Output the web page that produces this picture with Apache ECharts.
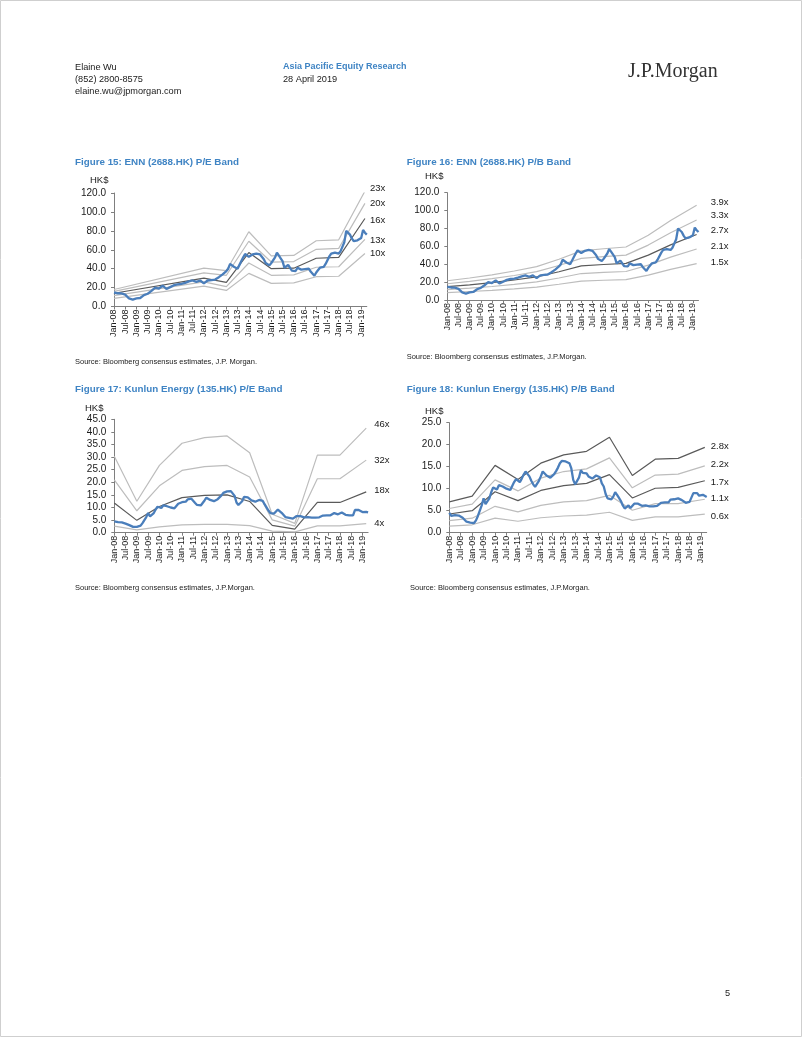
<!DOCTYPE html>
<html>
<head>
<meta charset="utf-8">
<script src="https://cdn.jsdelivr.net/npm/echarts@6/dist/echarts.min.js"></script>
<style>
html,body{margin:0;padding:0;background:#fff;}
#c{width:802px;height:1037px;}
</style>
</head>
<body>
<div id="c"></div>
<script>
// ---------- categories (monthly, Jan-08 .. Apr-19) ----------
const monthNames = ['Jan','Feb','Mar','Apr','May','Jun','Jul','Aug','Sep','Oct','Nov','Dec'];
const categories = [];
for (let y = 8; y <= 19; y++) {
  for (let m = 0; m < 12; m++) {
    if (y === 19 && m > 3) break;
    categories.push(monthNames[m] + '-' + String(y).padStart(2, '0'));
  }
}

// ---------- ENN (2688.HK) monthly share price, HK$ ----------
const ennPrice = [
  14.8,14.5,14.0,14.2,13.8,13.2,12.5,11.0,8.5,7.5,7.2,7.8,
  8.5,8.0,9.0,10.5,12.0,13.0,13.5,14.8,16.5,18.0,20.0,19.5,
  19.0,20.5,22.0,21.0,18.5,19.0,20.5,22.0,22.5,23.0,23.5,23.0,
  24.0,24.5,25.0,26.0,26.5,27.0,27.5,26.5,26.0,27.0,27.5,25.5,
  24.5,26.0,27.5,27.0,28.0,29.0,28.5,30.0,31.0,32.5,34.0,35.5,
  37.5,40.0,45.0,43.0,42.0,41.0,40.0,44.0,48.0,52.0,55.5,57.5,
  52.5,54.0,55.0,55.5,56.0,55.5,55.0,53.0,50.0,46.0,44.0,43.5,
  46.0,48.0,52.0,57.0,54.0,51.0,48.0,41.0,39.0,44.0,43.0,38.0,
  36.0,37.5,41.0,42.5,39.0,38.0,39.5,41.5,40.0,37.0,35.0,32.5,
  36.0,38.5,41.0,40.5,42.0,45.0,47.0,53.0,56.0,55.5,57.0,57.5,
  56.0,58.5,60.0,68.0,80.0,79.0,76.0,72.0,69.0,67.5,70.0,71.0,
  72.5,81.0,78.0,76.0
];

// ---------- Kunlun Energy (135.HK) monthly share price, HK$ ----------
const klPrice = [
  4.5,3.8,4.2,4.0,4.1,3.9,3.6,3.4,3.0,2.5,2.3,2.3,
  2.3,2.2,2.8,3.8,5.0,6.2,7.8,6.5,6.2,7.8,9.2,10.3,
  10.2,9.8,10.8,11.0,10.5,10.2,10.0,10.2,9.7,10.0,11.5,12.2,
  12.1,11.5,12.3,13.2,13.9,13.5,12.8,11.8,11.0,10.4,10.8,11.8,
  12.8,13.9,13.6,13.0,12.6,12.5,12.7,13.3,14.0,14.8,15.8,16.3,
  16.4,16.2,16.5,15.8,14.6,12.0,11.0,10.9,12.5,14.2,13.6,14.0,
  13.5,12.8,13.2,12.3,12.7,13.0,13.4,12.6,11.2,10.5,8.8,7.8,
  8.0,7.6,8.2,9.2,8.6,7.9,7.2,6.2,5.5,5.9,6.2,5.6,
  6.0,6.6,6.9,6.6,6.2,6.1,6.4,6.2,5.9,6.0,5.8,6.0,
  5.7,6.1,6.4,6.8,7.1,6.9,7.0,6.9,7.5,7.8,7.6,7.3,
  7.8,8.0,7.4,7.1,6.8,6.9,7.0,6.9,9.0,9.4,9.0,8.4,
  8.2,8.6,8.3,8.1
];

// ---------- Figure 15: ENN P/E band (values at band kink months) ----------
const ennPEKinks = ['Jan-08','Jan-12','Jan-13','Jan-14','Jan-15','Jan-16','Jan-17','Jan-18','Mar-19'];
const ennPE23 = [18.0, 40.5, 38.0, 79.0, 53.5, 54.0, 69.5, 70.5, 122.0];
const ennPE20 = [16.0, 35.5, 33.0, 69.0, 47.0, 47.5, 60.5, 61.5, 109.0];
const ennPE16 = [14.0, 30.0, 25.5, 57.0, 40.0, 40.5, 51.0, 52.0, 93.0];
const ennPE13 = [11.5, 26.0, 21.0, 46.0, 33.0, 33.5, 41.5, 42.0, 71.0];
const ennPE10 = [8.5, 21.5, 17.0, 35.0, 24.5, 25.0, 31.5, 32.0, 56.0];

// ---------- Figure 16: ENN P/B band ----------
const yearKinks = ['Jan-08','Jan-09','Jan-10','Jan-11','Jan-12','Jan-13','Jan-14','Jan-15','Jan-16','Jan-17','Jan-18','Mar-19'];
const ennPB39 = [21.5, 24.6, 28.1, 32.4, 37.4, 45.6, 55.0, 57.3, 59.3, 72.5, 89.0, 106.0];
const ennPB33 = [18.2, 20.8, 23.8, 27.4, 31.7, 38.6, 46.5, 48.5, 50.2, 61.4, 75.2, 89.5];
const ennPB27 = [14.9, 17.0, 19.4, 22.4, 25.9, 31.6, 38.1, 39.7, 41.0, 50.2, 61.6, 73.2];
const ennPB21 = [11.6, 13.2, 15.1, 17.4, 20.2, 24.6, 29.6, 30.9, 31.9, 39.0, 47.9, 57.0];
const ennPB15 = [8.3, 9.5, 10.8, 12.5, 14.4, 17.6, 21.2, 22.1, 22.8, 27.9, 34.2, 40.7];

// ---------- Figure 17: Kunlun P/E band ----------
const klPE46 = [30.3, 12.5, 26.7, 35.5, 37.7, 38.4, 31.7, 7.3, 3.7, 30.8, 30.8, 41.5];
const klPE32 = [21.0, 8.7, 18.6, 24.7, 26.2, 26.7, 22.1, 5.1, 2.6, 21.4, 21.4, 28.8];
const klPE18 = [11.8, 4.9, 10.4, 13.9, 14.8, 15.0, 12.4, 2.9, 1.4, 12.0, 12.0, 16.2];
const klPE4  = [2.6, 1.1, 2.3, 3.1, 3.3, 3.3, 2.8, 0.6, 0.3, 2.7, 2.7, 3.6];

// ---------- Figure 18: Kunlun P/B band ----------
const klPB28 = [7.0, 8.3, 15.3, 12.1, 15.8, 17.7, 18.5, 21.7, 13.0, 16.7, 16.9, 19.4];
const klPB22 = [5.5, 6.5, 12.0, 9.5, 12.4, 13.9, 14.5, 17.0, 10.2, 13.1, 13.3, 15.2];
const klPB17 = [4.25, 5.0, 9.3, 7.3, 9.6, 10.7, 11.2, 13.2, 7.9, 10.1, 10.3, 11.8];
const klPB11 = [2.75, 3.3, 6.0, 4.75, 6.2, 7.0, 7.3, 8.5, 5.1, 6.6, 6.6, 7.6];
const klPB06 = [1.5, 1.8, 3.3, 2.6, 3.4, 3.8, 4.0, 4.65, 2.8, 3.6, 3.6, 4.2];

// ---------- styling ----------
const F = 'Liberation Sans, Arial, sans-serif';
const TXT = '#1a1a1a';
const BLUE_T = '#3f84c4';
const PRICE = '#4a7ebb';
const DARK = '#5a5a5a';
const LIGHT = '#bdbdbd';

function band(name, kinks, vals, gi, dark, dist, dy) {
  return {
    type: 'line', name: name, xAxisIndex: gi, yAxisIndex: gi,
    data: kinks.map((k, i) => [categories.indexOf(k), vals[i]]),
    symbol: 'none', silent: true, z: dark ? 3 : 2,
    lineStyle: { color: dark ? DARK : LIGHT, width: 1.2 },
    endLabel: { show: true, formatter: name, distance: dist, offset: [0, dy],
      fontSize: 9.5, color: TXT, fontFamily: F }
  };
}
function price(vals, gi) {
  return { type: 'line', name: 'Price', xAxisIndex: gi, yAxisIndex: gi, data: vals,
    symbol: 'none', silent: true, z: 6,
    lineStyle: { color: PRICE, width: 2.3 } };
}

const grids = [
  { left: 114, top: 193, width: 252.8, height: 113.5 },
  { left: 447.3, top: 192.7, width: 251.2, height: 107.3 },
  { left: 114.3, top: 419.3, width: 253.8, height: 113.4 },
  { left: 449.3, top: 422.7, width: 257.4, height: 110 }
].map(g => Object.assign({ containLabel: false, outerBoundsMode: 'none' }, g));

const yRanges = [[0, 120, 20], [0, 120, 20], [0, 45, 5], [0, 25, 5]];

const xAxes = grids.map((g, i) => ({
  type: 'category', gridIndex: i, data: categories, boundaryGap: false,
  axisLine: { show: true, lineStyle: { color: '#7f7f7f', width: 1 } },
  axisTick: { show: true, interval: 5, length: 3, lineStyle: { color: '#7f7f7f' } },
  axisLabel: { interval: 5, rotate: 90, fontSize: 9, margin: 3, color: TXT, fontFamily: F },
  splitLine: { show: false }
}));
const yAxes = yRanges.map((r, i) => ({
  type: 'value', gridIndex: i, min: r[0], max: r[1], interval: r[2],
  axisLine: { show: true, lineStyle: { color: '#7f7f7f', width: 1 } },
  axisTick: { show: true, length: 3, lineStyle: { color: '#7f7f7f' } },
  axisLabel: { fontSize: 10, margin: 8, color: TXT, fontFamily: F,
    formatter: v => v.toFixed(1) },
  splitLine: { show: false }
}));

const series = [
  band('23x', ennPEKinks, ennPE23, 0, false, 5, -3),
  band('20x', ennPEKinks, ennPE20, 0, false, 5, 0),
  band('16x', ennPEKinks, ennPE16, 0, true, 5, 2),
  band('13x', ennPEKinks, ennPE13, 0, false, 5, 1),
  band('10x', ennPEKinks, ennPE10, 0, false, 5, 0),
  price(ennPrice, 0),

  band('3.9x', yearKinks, ennPB39, 1, false, 14, -3),
  band('3.3x', yearKinks, ennPB33, 1, false, 14, -5),
  band('2.7x', yearKinks, ennPB27, 1, true, 14, -4),
  band('2.1x', yearKinks, ennPB21, 1, false, 14, -3),
  band('1.5x', yearKinks, ennPB15, 1, false, 14, -1),
  price(ennPrice, 1),

  band('46x', yearKinks, klPE46, 2, false, 8, -4),
  band('32x', yearKinks, klPE32, 2, false, 8, 0),
  band('18x', yearKinks, klPE18, 2, true, 8, -2),
  band('4x', yearKinks, klPE4, 2, false, 8, 0),
  price(klPrice, 2),

  band('2.8x', yearKinks, klPB28, 3, true, 6, -1),
  band('2.2x', yearKinks, klPB22, 3, false, 6, -1),
  band('1.7x', yearKinks, klPB17, 3, true, 6, 2),
  band('1.1x', yearKinks, klPB11, 3, false, 6, -1),
  band('0.6x', yearKinks, klPB06, 3, false, 6, 2),
  price(klPrice, 3)
];

function txt(x, y, text, size, opts) {
  opts = opts || {};
  return { type: 'text', x: x, y: y, silent: true, z: 10,
    style: { text: text, fill: opts.color || TXT, fontSize: size,
      fontFamily: opts.family || F, fontWeight: opts.bold ? 'bold' : 'normal',
      align: opts.align || 'left', verticalAlign: 'middle' } };
}

const graphics = [
  { type: 'rect', shape: { x: 0.5, y: 0.5, width: 801, height: 1036 }, silent: true,
    style: { fill: 'none', stroke: '#cfcfcf', lineWidth: 1 } },
  // header
  txt(75, 67, 'Elaine Wu', 9.2),
  txt(75, 79, '(852) 2800-8575', 9.2),
  txt(75, 91, 'elaine.wu@jpmorgan.com', 9.2),
  txt(283, 67, 'Asia Pacific Equity Research', 9, { bold: true, color: BLUE_T }),
  txt(283, 79, '28 April 2019', 9.2),
  txt(628, 72, 'J.P.Morgan', 20, { family: 'Liberation Serif, Times New Roman, serif', color: '#333333' }),
  // figure titles
  txt(75, 162.7, 'Figure 15: ENN (2688.HK) P/E Band', 9.8, { bold: true, color: BLUE_T }),
  txt(406.7, 162.7, 'Figure 16: ENN (2688.HK) P/B Band', 9.8, { bold: true, color: BLUE_T }),
  txt(75, 389.5, 'Figure 17: Kunlun Energy (135.HK) P/E Band', 9.8, { bold: true, color: BLUE_T }),
  txt(406.7, 389.5, 'Figure 18: Kunlun Energy (135.HK) P/B Band', 9.8, { bold: true, color: BLUE_T }),
  // unit labels
  txt(90, 180.7, 'HK$', 9.5),
  txt(425, 176.7, 'HK$', 9.5),
  txt(85, 408.3, 'HK$', 9.5),
  txt(425, 411.7, 'HK$', 9.5),
  // sources
  txt(75, 361.7, 'Source: Bloomberg consensus estimates, J.P. Morgan.', 7.5),
  txt(406.7, 356.7, 'Source: Bloomberg consensus estimates, J.P.Morgan.', 7.5),
  txt(75, 588.3, 'Source: Bloomberg consensus estimates, J.P.Morgan.', 7.5),
  txt(410, 588.3, 'Source: Bloomberg consensus estimates, J.P.Morgan.', 7.5),
  // page number
  txt(725, 993, '5', 9.2)
];

const chart = echarts.init(document.getElementById('c'), null, { renderer: 'canvas' });
chart.setOption({
  animation: false,
  backgroundColor: '#ffffff',
  textStyle: { fontFamily: F },
  grid: grids,
  xAxis: xAxes,
  yAxis: yAxes,
  series: series,
  graphic: graphics
});
</script>
</body>
</html>
